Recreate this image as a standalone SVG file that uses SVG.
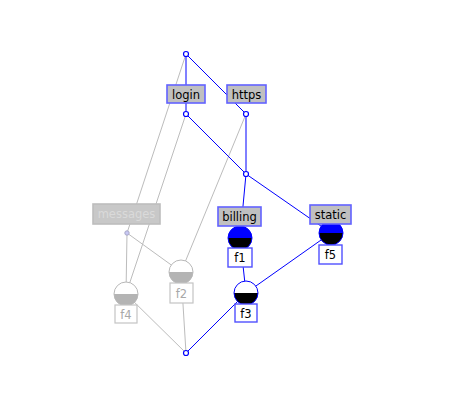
<svg xmlns="http://www.w3.org/2000/svg" width="458" height="408" viewBox="0 0 458 408">
<style>
.e{stroke:#0000ff;stroke-width:1;fill:none}
.g{stroke:#bcbcbc;stroke-width:1;fill:none}
.pt{fill:#fff;stroke:#0000ff;stroke-width:1.2}
.lab{fill:#c0c0c0;stroke:#6262ff;stroke-width:1.6}
.labg{fill:#c8c8c8;stroke:#bdbdbd;stroke-width:1.6}
.fb{fill:#fff;stroke:#5050ff;stroke-width:1.4}
.fbg{fill:#fff;stroke:#c4c4c4;stroke-width:1.2}
text{font-family:"DejaVu Sans","Liberation Sans",sans-serif;font-size:11.5px;text-anchor:middle}
.tg{fill:#a8a8a8}
.tm{fill:#dadada}
</style>
<rect width="458" height="408" fill="#fff"/>
<g id="connectors">
<line class="g" x1="186" y1="54" x2="127" y2="233"/>
<line class="g" x1="186" y1="114" x2="126" y2="294"/>
<line class="g" x1="246" y1="114" x2="181" y2="272"/>
<line class="g" x1="127" y1="233" x2="126" y2="294"/>
<line class="g" x1="127" y1="233" x2="181" y2="272"/>
<line class="g" x1="126" y1="294" x2="186" y2="353"/>
<line class="g" x1="181" y1="272" x2="186" y2="353"/>
<line class="e" x1="186" y1="54" x2="186" y2="114"/>
<line class="e" x1="186" y1="54" x2="246" y2="114"/>
<line class="e" x1="186" y1="114" x2="246" y2="174"/>
<line class="e" x1="246" y1="114" x2="246" y2="174"/>
<line class="e" x1="246" y1="174" x2="240" y2="238"/>
<line class="e" x1="246" y1="174" x2="331" y2="233"/>
<line class="e" x1="240" y1="238" x2="246" y2="293"/>
<line class="e" x1="331" y1="233" x2="246" y2="293"/>
<line class="e" x1="246" y1="293" x2="186" y2="353"/>
</g>
<g id="top"><circle class="pt" cx="186" cy="54" r="2.5"/></g>
<g id="n-login"><circle class="pt" cx="186" cy="114" r="2.5"/></g>
<g id="n-https"><circle class="pt" cx="246" cy="114" r="2.5"/></g>
<g id="n-mid"><circle class="pt" cx="246" cy="174" r="2.5"/></g>
<g id="bottom"><circle class="pt" cx="186" cy="353" r="2.5"/></g>
<g id="n-messages"><circle cx="127" cy="233" r="2.2" fill="#c8c8f4" stroke="#a8a8c8" stroke-width="1"/></g>
<g id="login"><rect class="lab" x="167" y="85" width="38" height="18"/><text x="186" y="98.5">login</text></g>
<g id="https"><rect class="lab" x="227" y="85" width="39" height="18"/><text x="246.5" y="98.5">https</text></g>
<g id="messages"><rect class="labg" x="93" y="204" width="67" height="20"/><text class="tm" x="126.5" y="218">messages</text></g>
<g id="f1">
<path d="M228,238 A12,12 0 0 1 252,238 Z" fill="#0000ff"/>
<path d="M228,238 A12,12 0 0 0 252,238 Z" fill="#000"/>
<circle cx="240" cy="238" r="12" fill="none" stroke="#0000ff" stroke-width="1"/>
<rect class="lab" x="218" y="207" width="43" height="19"/><text x="239.5" y="220.5">billing</text>
<rect class="fb" x="228" y="248" width="24" height="19"/><text x="240" y="262">f1</text>
</g>
<g id="f5">
<path d="M319,233 A12,12 0 0 1 343,233 Z" fill="#0000ff"/>
<path d="M319,233 A12,12 0 0 0 343,233 Z" fill="#000"/>
<circle cx="331" cy="233" r="12" fill="none" stroke="#0000ff" stroke-width="1"/>
<rect class="lab" x="310" y="205" width="41" height="19"/><text x="330.5" y="218.5">static</text>
<rect class="fb" x="319" y="245" width="23" height="19"/><text x="330.5" y="259">f5</text>
</g>
<g id="f3">
<path d="M234,293 A12,12 0 0 1 258,293 Z" fill="#fff"/>
<path d="M234,293 A12,12 0 0 0 258,293 Z" fill="#000"/>
<circle cx="246" cy="293" r="12" fill="none" stroke="#0000ff" stroke-width="1"/>
<rect class="fb" x="235" y="304" width="22" height="18"/><text x="246" y="317.5">f3</text>
</g>
<g id="f2">
<path d="M169,272 A12,12 0 0 1 193,272 Z" fill="#fff"/>
<path d="M169,272 A12,12 0 0 0 193,272 Z" fill="#b4b4b4"/>
<circle cx="181" cy="272" r="12" fill="none" stroke="#b8b8b8" stroke-width="1"/>
<rect class="fbg" x="170" y="283" width="23" height="20"/><text class="tg" x="181.5" y="297.5">f2</text>
</g>
<g id="f4">
<path d="M114,294 A12,12 0 0 1 138,294 Z" fill="#fff"/>
<path d="M114,294 A12,12 0 0 0 138,294 Z" fill="#b4b4b4"/>
<circle cx="126" cy="294" r="12" fill="none" stroke="#b8b8b8" stroke-width="1"/>
<rect class="fbg" x="115" y="305" width="22" height="18"/><text class="tg" x="126" y="318.5">f4</text>
</g>
</svg>
